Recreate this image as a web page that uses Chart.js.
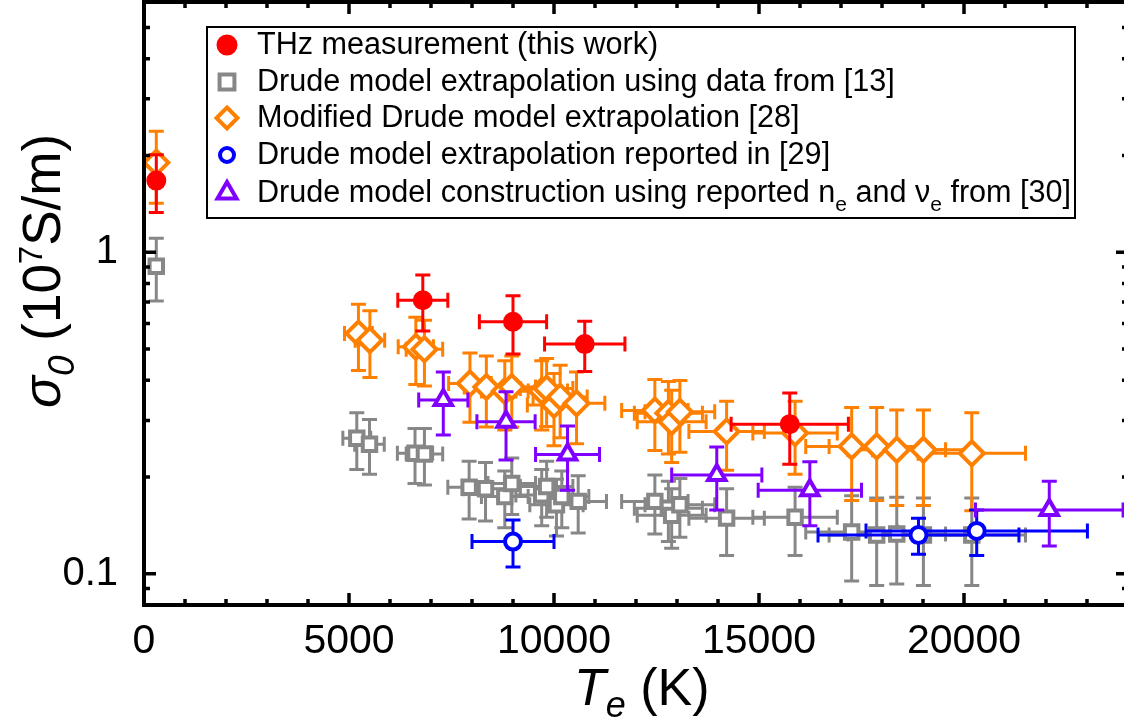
<!DOCTYPE html>
<html><head><meta charset="utf-8">
<script src="https://cdn.jsdelivr.net/npm/chart.js@4/dist/chart.umd.min.js"></script>
<style>
html,body{margin:0;padding:0;background:#fff;overflow:hidden;}
#wrap{position:relative;width:1132px;height:723px;overflow:hidden;}
#c{position:absolute;left:0;top:0;}
</style></head><body>
<div id="wrap"><canvas id="c" width="1132" height="723"></canvas></div>
<script>
// ---------------- data ----------------
const thzT        = [300, 6800, 9000, 10750, 15750];
const thzSigma    = [1.67, 0.709, 0.608, 0.518, 0.292];
const thzSigmaErr = [0.34, 0.14, 0.125, 0.092, 0.073];
const thzTErr     = [0, 610, 820, 980, 1430];

const drudeT        = [300, 5190, 5500, 6610, 6840, 7930, 8330, 8800, 8970, 9700, 9820, 10060, 10190, 10590, 12460, 12790, 12870, 13070, 14210, 15880, 17260, 17870, 18360, 19010, 20190];
const drudeSigma    = [0.905, 0.264, 0.253, 0.237, 0.236, 0.186, 0.184, 0.174, 0.191, 0.176, 0.187, 0.164, 0.174, 0.168, 0.168, 0.160, 0.152, 0.164, 0.149, 0.150, 0.135, 0.132, 0.133, 0.132, 0.132];
const drudeSigmaErr = [0.20, 0.053, 0.049, 0.046, 0.047, 0.038, 0.038, 0.035, 0.038, 0.035, 0.037, 0.033, 0.035, 0.034, 0.035, 0.034, 0.032, 0.034, 0.035, 0.036, 0.040, 0.040, 0.040, 0.040, 0.040];
const drudeTErr     = [0, 340, 360, 430, 445, 520, 540, 570, 580, 630, 640, 650, 660, 690, 810, 830, 840, 850, 920, 1030, 1120, 1160, 1190, 1240, 1310];

const modT        = [300, 5230, 5510, 6630, 6840, 7950, 8350, 8800, 8970, 9700, 9820, 10000, 10150, 10550, 12460, 12790, 12870, 13070, 14210, 15880, 17260, 17870, 18360, 19010, 20190];
const modSigma    = [1.90, 0.559, 0.533, 0.508, 0.499, 0.391, 0.381, 0.370, 0.381, 0.370, 0.377, 0.335, 0.355, 0.339, 0.322, 0.316, 0.297, 0.319, 0.277, 0.274, 0.249, 0.249, 0.243, 0.243, 0.237];
const modSigmaErr = [0.48, 0.13, 0.125, 0.12, 0.115, 0.095, 0.095, 0.09, 0.095, 0.09, 0.09, 0.085, 0.09, 0.085, 0.08, 0.08, 0.075, 0.08, 0.067, 0.07, 0.08, 0.08, 0.08, 0.08, 0.08];
const modTErr     = [0, 340, 360, 430, 445, 520, 540, 570, 580, 630, 640, 650, 660, 690, 810, 830, 840, 850, 920, 1030, 1120, 1160, 1190, 1240, 1310];

const rep29T        = [9000, 18890, 20310];
const rep29Sigma    = [0.126, 0.132, 0.136];
const rep29SigmaErr = [0.021, 0.017, 0.022];
const rep29TErr     = [1000, 2450, 2700];

const con30T        = [7300, 8830, 10330, 13970, 16240, 22080];
const con30Sigma    = [0.347, 0.297, 0.235, 0.203, 0.182, 0.158];
const con30SigmaErr = [0.077, 0.071, 0.053, 0.045, 0.041, 0.036];
const con30TErr     = [600, 710, 780, 1100, 1260, 1800];

const xTickLabels = [0, 5000, 10000, 15000, 20000];
const yTickLabels = [0.1, 1];

// ---------------- helpers ----------------
const FONT = '"Liberation Sans", Arial, sans-serif';
function pts(xs, ys){ return xs.map((x,i)=>({x:x, y:ys[i]})); }

// page-space offset of the canvas (set below), used to place fixed page-space decorations
let OFFY = 0;

const errorBars = {
  id:'errorBars',
  beforeDatasetDraw(chart, args){
    const ds = chart.data.datasets[args.index];
    if (!ds.errX) return;
    const xs = chart.scales.x, ys = chart.scales.y, ctx = chart.ctx;
    const cap = 7.5;
    ctx.save();
    ctx.strokeStyle = ds.borderColor; ctx.lineWidth = 3; ctx.lineCap = 'butt';
    ds.data.forEach((p,i)=>{
      const px = xs.getPixelForValue(p.x), py = ys.getPixelForValue(p.y);
      const ex = ds.errX[i], ey = ds.errY[i];
      ctx.beginPath();
      if (ey > 0){
        const y1 = ys.getPixelForValue(p.y + ey), y2 = ys.getPixelForValue(p.y - ey);
        ctx.moveTo(px, y1); ctx.lineTo(px, y2);
        ctx.moveTo(px-cap, y1); ctx.lineTo(px+cap, y1);
        ctx.moveTo(px-cap, y2); ctx.lineTo(px+cap, y2);
      }
      if (ex > 0){
        const x1 = xs.getPixelForValue(p.x - ex), x2 = xs.getPixelForValue(p.x + ex);
        ctx.moveTo(x1, py); ctx.lineTo(x2, py);
        ctx.moveTo(x1, py-cap); ctx.lineTo(x1, py+cap);
        ctx.moveTo(x2, py-cap); ctx.lineTo(x2, py+cap);
      }
      ctx.stroke();
    });
    ctx.restore();
  }
};

function drawRich(ctx, parts, x, y){
  let cx = x;
  parts.forEach(p=>{ ctx.font = p.f; ctx.fillText(p.t, cx, y + (p.dy||0)); cx += ctx.measureText(p.t).width; });
}

const frame = {
  id:'frame',
  afterDraw(chart){
    const {ctx, chartArea:a, scales:{x, y}} = chart;
    ctx.save();
    ctx.strokeStyle = '#000';
    ctx.lineWidth = 4;
    ctx.strokeRect(a.left, a.top, a.right - a.left, a.bottom - a.top);
    ctx.lineWidth = 3.5;
    ctx.beginPath();
    for (let v = 0; v <= 24000; v += 1000){
      const px = x.getPixelForValue(v);
      const L = (v % 5000 === 0) ? 12 : 6;
      ctx.moveTo(px, a.bottom); ctx.lineTo(px, a.bottom - L);
      ctx.moveTo(px, a.top); ctx.lineTo(px, a.top + L);
    }
    const yv = [];
    for (let d = 0.01; d < 10; d *= 10){
      for (let m = 1; m <= 9; m++){ yv.push([+(m*d).toPrecision(2), m===1]); }
    }
    yv.forEach(([v, major])=>{
      if (v < y.min || v > y.max) return;
      const py = y.getPixelForValue(v);
      const L = major ? 12 : 6;
      ctx.moveTo(a.left, py); ctx.lineTo(a.left + L, py);
      ctx.moveTo(a.right, py); ctx.lineTo(a.right - L, py);
    });
    ctx.stroke();

    // everything below is placed in page space
    ctx.translate(0, OFFY);
    ctx.fillStyle = '#000';
    ctx.textBaseline = 'alphabetic';
    // x title
    drawRich(ctx, [
      {t:'T', f:`italic 52px ${FONT}`},
      {t:'e', f:`italic 36px ${FONT}`, dy:12},
      {t:' (K)', f:`52px ${FONT}`}
    ], 574, 705);
    // y title (rotated)
    ctx.save();
    ctx.translate(60, 408);
    ctx.rotate(-Math.PI/2);
    drawRich(ctx, [
      {t:'\u03C3', f:`italic 53px ${FONT}`},
      {t:'0', f:`italic 37px ${FONT}`, dy:14},
      {t:' (10', f:`53px ${FONT}`},
      {t:'7', f:`33px ${FONT}`, dy:-18},
      {t:'S/m)', f:`53px ${FONT}`}
    ], 0, 0);
    ctx.restore();

    // legend
    const bx = 207, by = 27, bw = 868, bh = 191;
    ctx.fillStyle = '#fff';
    ctx.fillRect(bx, by, bw, bh);
    ctx.lineWidth = 2; ctx.strokeStyle = '#000';
    ctx.strokeRect(bx, by, bw, bh);
    const rows = [45, 82, 118, 155, 193];
    const mx = 227, tx = 257;
    const items = [
      [{t:'THz measurement (this work)'}],
      [{t:'Drude model extrapolation using data from [13]'}],
      [{t:'Modified Drude model extrapolation [28]'}],
      [{t:'Drude model extrapolation reported in [29]'}],
      [{t:'Drude model construction using reported n'},{t:'e',s:1},{t:' and \u03BD'},{t:'e',s:1},{t:' from [30]'}]
    ];
    chart.data.datasets.forEach((ds, i)=>{
      const yy = rows[i];
      drawMarker(ctx, ds, mx, yy, true);
      ctx.fillStyle = '#000';
      ctx.textBaseline = 'middle';
      drawRich(ctx, items[i].map(p=>({t:p.t, f: p.s ? `21px ${FONT}` : `30.6px ${FONT}`, dy: p.s ? 11 : 0})), tx, yy + 1);
    });
    ctx.restore();
  }
};

function drawMarker(ctx, ds, x, y, legend){
  ctx.save();
  ctx.lineWidth = ds.pointBorderWidth;
  ctx.strokeStyle = ds.borderColor;
  ctx.fillStyle = ds.pointBackgroundColor;
  let r = ds.pointRadius;
  if (legend && ds.legendRadius) r = ds.legendRadius;
  ctx.beginPath();
  if (ds.pointStyle === 'circle'){ ctx.arc(x, y, r, 0, Math.PI*2); }
  else if (ds.pointStyle === 'rect'){ const s = r*Math.SQRT1_2; ctx.rect(x-s, y-s, 2*s, 2*s); }
  else if (ds.pointStyle === 'rectRot'){ ctx.moveTo(x, y-r); ctx.lineTo(x+r, y); ctx.lineTo(x, y+r); ctx.lineTo(x-r, y); ctx.closePath(); }
  else if (ds.pointStyle === 'triangle'){
    for (let k=0;k<3;k++){ const ang = k*2*Math.PI/3; const px = x + Math.sin(ang)*r, py = y - Math.cos(ang)*r; if(k===0) ctx.moveTo(px,py); else ctx.lineTo(px,py);} ctx.closePath();
  }
  ctx.fill(); ctx.stroke();
  ctx.restore();
}

const RED='#ff0000', GRAY='#878787', ORANGE='#ff8000', BLUE='#0000ff', PURPLE='#8000ff';

function noPad(s){ s.paddingTop = 0; s.paddingBottom = 0; s.paddingLeft = 0; s.paddingRight = 0; }

function makeConfig(){
  return {
  type:'scatter',
  data:{
    datasets:[
      {label:'THz measurement (this work)', data:pts(thzT, thzSigma), errX:thzTErr, errY:thzSigmaErr,
       borderColor:RED, pointBackgroundColor:RED, pointBorderColor:RED, pointStyle:'circle', pointRadius:9, pointBorderWidth:2, legendRadius:9.5, order:1},
      {label:'Drude model extrapolation using data from [13]', data:pts(drudeT, drudeSigma), errX:drudeTErr, errY:drudeSigmaErr,
       borderColor:GRAY, pointBackgroundColor:'#fff', pointBorderColor:GRAY, pointStyle:'rect', pointRadius:9.5, pointBorderWidth:4, legendRadius:10.5, order:5},
      {label:'Modified Drude model extrapolation [28]', data:pts(modT, modSigma), errX:modTErr, errY:modSigmaErr,
       borderColor:ORANGE, pointBackgroundColor:'#fff', pointBorderColor:ORANGE, pointStyle:'rectRot', pointRadius:12, pointBorderWidth:4, legendRadius:10.5, order:4},
      {label:'Drude model extrapolation reported in [29]', data:pts(rep29T, rep29Sigma), errX:rep29TErr, errY:rep29SigmaErr,
       borderColor:BLUE, pointBackgroundColor:'#fff', pointBorderColor:BLUE, pointStyle:'circle', pointRadius:8, pointBorderWidth:4, legendRadius:7, order:3},
      {label:'Drude model construction using reported ne and νe from [30]', data:pts(con30T, con30Sigma), errX:con30TErr, errY:con30SigmaErr,
       borderColor:PURPLE, pointBackgroundColor:'#fff', pointBorderColor:PURPLE, pointStyle:'triangle', pointRadius:10, pointBorderWidth:4, legendRadius:11, order:2}
    ]
  },
  options:{
    responsive:false, animation:false, devicePixelRatio:1,
    layout:{padding:{left:0, right:4, top:2, bottom:0}},
    plugins:{legend:{display:false}, tooltip:{enabled:false}},
    scales:{
      x:{type:'linear', min:0, max:24000,
         afterFit(s){ s.height = 118; noPad(s); },
         afterBuildTicks(s){ s.ticks = xTickLabels.map(v=>({value:v})); },
         grid:{display:false, drawTicks:false}, border:{display:false},
         ticks:{padding:12, color:'#000', font:{family:FONT, size:41}, maxRotation:0, autoSkip:false, callback:(v)=>String(v)}},
      y:{type:'logarithmic', min:0.08, max:6,
         afterFit(s){ s.width = 144; noPad(s); },
         afterBuildTicks(s){ s.ticks = yTickLabels.map(v=>({value:v})); },
         grid:{display:false, drawTicks:false}, border:{display:false},
         ticks:{padding:26, color:'#000', font:{family:FONT, size:40}, autoSkip:false, callback:(v)=>String(v)}}
    }
  },
  plugins:[errorBars, frame]
  };
}

const canvas = document.getElementById('c');
const wrap = document.getElementById('wrap');
function make(w, h, offY){
  OFFY = offY;
  canvas.width = w; canvas.height = h;
  canvas.style.width = w + 'px'; canvas.style.height = h + 'px';
  canvas.style.top = (-offY) + 'px';
  wrap.style.width = w + 'px';
  return new Chart(canvas, makeConfig());
}
let W = 1132, H = 723, OY = 0;
let chart = make(W, H, OY);
for (let k = 0; k < 4; k++){
  const dr = Math.round(chart.chartArea.right - 1128);
  const dt = Math.round((chart.chartArea.top - OY) - 2);
  if (dr === 0 && dt === 0) break;
  chart.destroy();
  W -= dr;
  OY += dt; H += dt;
  chart = make(W, H, OY);
}
</script>
</body></html>
